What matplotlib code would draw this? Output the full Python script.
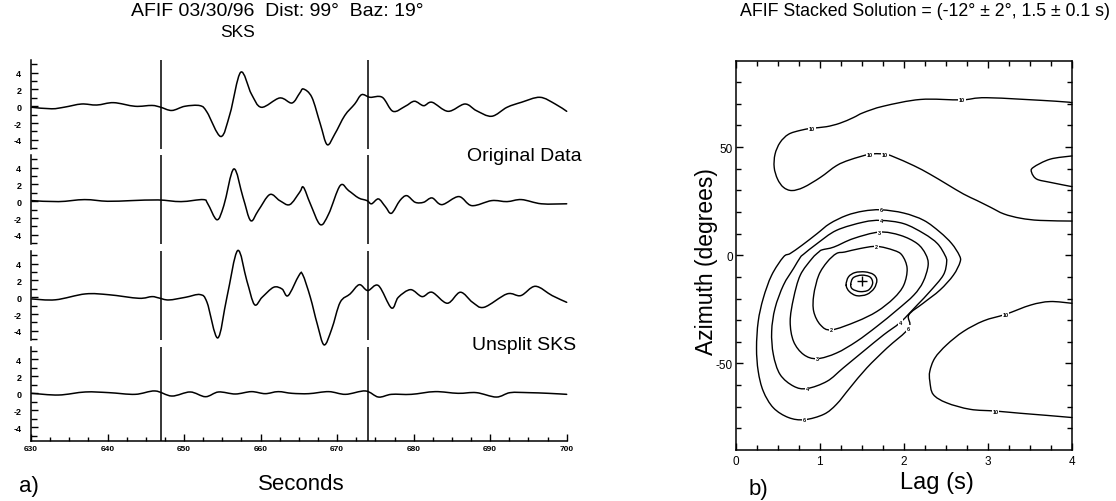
import matplotlib.pyplot as plt
import numpy as np
from matplotlib.path import Path
from matplotlib.patches import PathPatch

plt.rcParams['font.family'] = ['Liberation Sans', 'DejaVu Sans']
plt.rcParams['axes.unicode_minus'] = False

# ---TRACES (seconds, amplitude)---

t_rad = [630.1, 632.7, 634.4, 636.6, 638.6, 640.8, 643.6, 645.8, 646.9, 648.4,
         650.1, 652.1, 653.0, 654.8, 656.0, 657.4, 658.8, 660.1, 662.5, 664.1,
         665.1, 665.6, 666.7, 667.8, 668.7, 669.7, 671.0, 672.3, 673.2, 674.3,
         675.9, 677.3, 678.9, 680.1, 681.3, 682.4, 684.5, 686.7, 688.2, 690.2,
         692.2, 694.1, 696.5, 698.5, 700.0]
v_rad = [-0.12, -0.3, -0.1, 0.27, 0.15, 0.43, 0.0, 0.1, -0.1, -0.5,
         0.0, 0.07, -0.7, -3.6, -0.9, 4.05, 1.46, -0.12, 0.99, 0.39,
         1.55, 2.06, 1.07, -2.1, -4.57, -3.3, -1.1, 0.27, 1.38, 1.07,
         1.07, -0.6, 0.0, 0.6, 0.07, 0.48, -0.6, 0.27, -0.52, -1.19,
         -0.12, 0.48, 1.07, 0.27, -0.6]

t_tan = [630.1, 633.6, 637.0, 640.0, 643.1, 646.6, 649.6, 652.5, 653.1, 654.3,
         655.2, 656.5, 657.7, 658.7, 659.7, 661.2, 662.5, 663.8, 665.1, 665.6,
         666.5, 667.8, 668.9, 670.4, 671.5, 672.8, 673.9, 674.5, 675.4, 676.3,
         677.1, 678.2, 679.1, 680.2, 681.3, 682.4, 683.7, 685.9, 687.6, 690.2,
         692.2, 694.1, 696.7, 700.0]
v_tan = [0.08, -0.04, 0.2, 0.0, 0.08, 0.16, -0.04, 0.2, -0.3, -2.2,
         -0.5, 3.85, 0.48, -2.3, -1.1, 0.8, 0.08, -0.4, 1.07, 1.67,
         -0.3, -2.78, -1.5, 1.87, 1.27, 0.4, 0.08, -0.3, 0.28, -0.63,
         -1.43, 0.08, 0.67, -0.12, -0.12, 0.4, -0.4, 0.56, -0.52, 0.08,
         -0.04, 0.2, -0.3, -0.3]

t_rad_c = [630.1, 633.2, 637.1, 640.2, 644.1, 645.8, 646.7, 648.0, 650.2, 652.1,
           653.0, 654.4, 655.6, 657.0, 658.2, 659.2, 660.2, 661.7, 662.8, 663.6,
           665.0, 665.5, 666.5, 667.4, 668.3, 669.3, 670.4, 671.7, 672.9, 674.0,
           675.4, 677.1, 678.0, 679.6, 681.1, 682.4, 684.4, 686.1, 687.7, 689.2,
           692.2, 694.0, 695.9, 698.1, 700.0]
v_rad_c = [-0.2, -0.3, 0.4, 0.3, -0.12, 0.08, -0.08, -0.32, 0.0, 0.32,
           -0.6, -4.84, 0.0, 5.56, 1.98, -0.87, 0.0, 1.19, 0.99, 0.2,
           2.58, 2.7, 0.0, -3.17, -5.67, -3.77, -0.6, 0.4, 1.5, 0.8,
           1.39, -1.27, 0.0, 0.91, 0.08, 0.6, -0.71, 0.6, -0.6, -1.19,
           0.4, 0.2, 1.31, 0.2, -0.6]

t_tan_c = [630.1, 633.6, 637.1, 640.2, 643.6, 646.2, 648.4, 650.8, 652.8, 654.5,
           656.7, 658.8, 660.6, 662.3, 664.1, 666.3, 668.9, 671.1, 673.7, 675.4,
           677.1, 679.7, 682.8, 685.8, 688.2, 690.8, 692.6, 695.0, 697.6, 700.0]
v_tan_c = [0.0, -0.2, 0.16, 0.08, -0.12, 0.28, -0.32, 0.16, -0.4, 0.16,
           -0.08, 0.2, -0.04, 0.2, 0.0, -0.04, 0.2, -0.12, 0.28, -0.44,
           -0.12, -0.12, 0.2, 0.0, 0.08, -0.44, 0.08, 0.08, 0.0, -0.12]

sks_window = [647, 674]

# ---MISFIT CONTOURS (lag s, azimuth deg)---

c10_top_lag = [4.0, 3.80, 2.99, 2.69, 2.20, 1.76, 1.52, 1.40, 1.24, 1.08, 0.91, 0.77,
               0.63, 0.53, 0.47, 0.46, 0.50, 0.57, 0.67, 0.81, 1.01, 1.20, 1.36, 1.60,
               1.78, 1.88, 2.12, 2.31, 2.51, 2.71, 2.87, 3.03, 3.19, 3.39, 3.62, 4.0]
c10_top_az = [70.5, 71.2, 72.8, 71.8, 72.0, 68.9, 65.9, 63.6, 61.0, 59.4, 58.7, 57.7,
              55.9, 52.1, 46.7, 40.6, 35.2, 31.4, 29.9, 31.4, 36.0, 41.4, 44.1, 46.7,
              46.7, 45.5, 41.4, 37.5, 32.9, 28.3, 25.3, 22.2, 19.1, 17.1, 16.1, 15.8]

c10_lobe_lag = [4.0, 3.74, 3.54, 3.52, 3.58, 3.74, 4.0]
c10_lobe_az = [45.9, 44.4, 40.6, 38.3, 35.2, 33.7, 31.7]

c10_low_lag = [4.0, 3.74, 3.51, 3.21, 2.95, 2.71, 2.51, 2.37, 2.31, 2.31, 2.35, 2.51,
               2.79, 3.09, 3.38, 3.70, 4.0]
c10_low_az = [-22.2, -21.4, -23.0, -27.3, -30.3, -35.2, -41.4, -47.5, -53.6, -58.2,
              -64.3, -68.2, -71.2, -72.0, -73.0, -74.0, -75.0]

c6_lag = [1.73, 2.00, 2.24, 2.43, 2.57, 2.66, 2.67, 2.59, 2.43, 2.23, 2.06,
          2.06, 1.80, 1.56, 1.36, 1.20, 1.05, 0.82, 0.63, 0.45, 0.33, 0.27, 0.25,
          0.27, 0.33, 0.43, 0.57, 0.65, 0.79, 0.97, 1.12, 1.32, 1.52, 1.73]
c6_az = [21.0, 19.5, 16.1, 10.7, 5.4, 0.0, -3.1, -9.2, -16.1, -22.2, -27.6,
         -33.7, -42.9, -52.1, -61.3, -68.9, -73.5, -76.0, -75.0, -70.5, -62.8, -53.6, -42.9,
         -30.6, -19.9, -9.2, -0.8, 0.8, 4.6, 10.0, 14.6, 18.4, 20.4, 21.0]

c4_lag = [1.73, 2.00, 2.24, 2.40, 2.49, 2.51, 2.47, 2.31, 2.16, 1.96, 1.76, 1.52,
          1.28, 1.09, 0.85, 0.69, 0.53, 0.45, 0.43, 0.47, 0.57, 0.69, 0.77, 0.81,
          0.97, 1.20, 1.52, 1.73]
c4_az = [16.1, 14.6, 10.0, 5.4, 0.0, -3.1, -9.2, -16.8, -23.0, -31.0, -36.8, -44.4,
         -52.1, -58.2, -61.6, -60.5, -55.1, -45.9, -35.2, -24.5, -13.8, -6.1, -1.0, 0.5,
         5.4, 11.5, 15.3, 16.1]

c3_lag = [1.71, 1.96, 2.16, 2.26, 2.29, 2.23, 2.12, 1.92, 1.68, 1.44, 1.20, 0.97,
          0.81, 0.69, 0.65, 0.69, 0.77, 0.91, 0.99, 1.03, 1.17, 1.40, 1.71]
c3_az = [10.7, 9.2, 5.4, 0.5, -4.6, -12.3, -18.4, -25.3, -32.9, -39.8, -45.2, -47.8,
         -45.9, -39.8, -30.6, -19.9, -9.2, -1.5, 1.5, 2.5, 3.8, 7.7, 10.7]

c2_lag = [1.68, 1.88, 1.98, 2.04, 2.00, 1.88, 1.68, 1.44, 1.14, 1.01, 0.93, 0.93,
          0.99, 1.09, 1.20, 1.30, 1.48, 1.68]
c2_az = [4.1, 2.3, 0.0, -6.1, -13.8, -19.9, -26.0, -30.6, -34.5, -32.2, -26.0, -18.4,
         -9.2, -3.1, 0.8, 1.5, 3.1, 4.1]

c1_lag = [1.315, 1.343, 1.422, 1.541, 1.640, 1.680, 1.648, 1.561, 1.442, 1.354, 1.315]
c1_az = [-13.8, -10.0, -8.0, -7.7, -8.9, -11.5, -15.3, -18.1, -18.7, -16.8, -13.8]

c05_lag = [1.37, 1.40, 1.50, 1.60, 1.63, 1.58, 1.48, 1.39, 1.37]
c05_az = [-13.5, -10.4, -9.2, -10.1, -13.0, -16.1, -16.8, -15.6, -13.5]

best_lag = 1.5
best_az = -12

# label text and the point index where it sits
contour_labels = [
    (c10_top_lag, c10_top_az, '10', [3, 10, 23, 24]),
    (c10_low_lag, c10_low_az, '10', [3, 13]),
    (c6_lag, c6_az, '6', [0, 11, 17]),
    (c4_lag, c4_az, '4', [0, 9, 14]),
    (c3_lag, c3_az, '3', [0, 11]),
    (c2_lag, c2_az, '2', [0, 8]),
]

fig = plt.figure(figsize=(11.16, 5.02), dpi=100)
W, H = 1116.0, 502.0


def px_axes(x0, y0, x1, y1):
    return fig.add_axes([x0 / W, 1 - y1 / H, (x1 - x0) / W, (y1 - y0) / H])


def smooth_line(ax, xs, ys, closed=False, lw=1.0):
    # draw the points as a smooth curve (Catmull-Rom through each point)
    p = np.column_stack([xs, ys]).astype(float)
    if closed:
        p = p[:-1]
        ext = np.vstack([p[-1:], p, p[:2]])
    else:
        ext = np.vstack([p[:1], p, p[-1:]])
    n = len(ext) - 3
    verts = [ext[1]]
    codes = [Path.MOVETO]
    for i in range(1, n + 1):
        p0, p1, p2, p3 = ext[i - 1], ext[i], ext[i + 1], ext[i + 2]
        verts += [p1 + (p2 - p0) / 6.0, p2 - (p3 - p1) / 6.0, p2]
        codes += [Path.CURVE4] * 3
    patch = PathPatch(Path(verts, codes), fill=False, ec='black', lw=lw,
                      transform=ax.transData, clip_on=False, capstyle='round')
    ax.add_patch(patch)


# ---LEFT PANEL: four stacked traces---
traces = [(t_rad, v_rad), (t_tan, v_tan), (t_rad_c, v_rad_c), (t_tan_c, v_tan_c)]
rows = [(61.1, 150.1), (156.1, 245.1), (252.1, 341.1), (347.8, 441.7)]

for i, ((tt, vv), (y0, y1)) in enumerate(zip(traces, rows)):
    ax = px_axes(31, y0, 566.7, y1)
    smooth_line(ax, tt, vv, lw=1.1)
    for ts in sks_window:
        ax.axvline(ts, color='black', lw=1.1)
    ax.set_xlim(630, 700)
    if i == 3:
        ax.set_ylim(-5.6, 5.5)
    else:
        ax.set_ylim(-5.1, 5.5)
    for s in ['top', 'right']:
        ax.spines[s].set_visible(False)
    ax.spines['left'].set_linewidth(1.1)
    ax.set_yticks([-4, -2, 0, 2, 4])
    ax.set_yticklabels(['-4', '-2', '0', '2', '4'], fontweight='bold')
    ax.set_yticks([-5, -3, -1, 1, 3, 5], minor=True)
    ax.tick_params(axis='y', which='both', direction='in', labelsize=6.5,
                   length=5, width=1.0, pad=7)
    ax.tick_params(axis='y', which='minor', length=4)
    if i == 3:
        ax.spines['bottom'].set_linewidth(1.1)
        ax.set_xticks(np.arange(630, 701, 10))
        ax.set_xticks(np.arange(630, 701, 2.5), minor=True)
        ax.set_xticklabels([str(v) for v in range(630, 701, 10)], fontweight='bold')
        ax.tick_params(axis='x', which='both', direction='in', labelsize=6,
                       length=5, width=1.0, pad=3)
        ax.tick_params(axis='x', which='minor', length=3)
    else:
        ax.spines['bottom'].set_visible(False)
        ax.set_xticks([])

# ---RIGHT PANEL: stacked misfit contours---
axr = px_axes(735.5, 61.5, 1072, 451)
open_sets = [(c10_top_lag, c10_top_az), (c10_lobe_lag, c10_lobe_az),
             (c10_low_lag, c10_low_az)]
closed_sets = [(c6_lag, c6_az), (c4_lag, c4_az), (c3_lag, c3_az),
               (c2_lag, c2_az), (c1_lag, c1_az), (c05_lag, c05_az)]
for xs, ys in open_sets:
    smooth_line(axr, xs, ys)
for xs, ys in closed_sets:
    smooth_line(axr, xs, ys, closed=True)
for xs, ys, txt, idx in contour_labels:
    for k in idx:
        axr.text(xs[k], ys[k], txt, fontsize=4, fontweight='bold', ha='center',
                 va='center', bbox=dict(fc='white', ec='none', pad=0.6), zorder=5)
axr.plot(best_lag, best_az, marker='+', color='black', ms=7, mew=1.0)

axr.set_xlim(0, 4)
axr.set_ylim(-90, 90)
axr.set_xticks([0, 1, 2, 3, 4])
axr.set_xticks(np.arange(0, 4.01, 0.25), minor=True)
axr.set_yticks([-50, 0, 50])
axr.set_yticklabels(['-50', '0', '50'])
axr.set_yticks(np.arange(-80, 81, 10), minor=True)
axr.tick_params(which='both', direction='in', top=True, right=True,
                labelsize=8.5, width=1.0, length=5)
axr.tick_params(which='minor', length=3.5)
axr.tick_params(axis='y', pad=2)
for s in axr.spines.values():
    s.set_linewidth(1.1)

# ---TEXT---
def ftext(x, y, s, **kw):
    fig.text(x / W, 1 - y / H, s, ha='center', va='center', **kw)


ftext(277, 12, 'AFIF 03/30/96  Dist: 99°  Baz: 19°', fontsize=14)
ftext(238, 33, 'SKS', fontsize=12.5)
ftext(524, 157, 'Original Data', fontsize=14)
ftext(524, 346, 'Unsplit SKS', fontsize=14)
ftext(301, 485, 'Seconds', fontsize=16)
ftext(29, 487, 'a)', fontsize=16)
ftext(925, 12, 'AFIF Stacked Solution = (-12° ± 2°, 1.5 ± 0.1 s)', fontsize=12.8)
ftext(706, 262, 'Azimuth (degrees)', fontsize=16.5, rotation=90)
ftext(937, 483, 'Lag (s)', fontsize=17)
ftext(758, 490, 'b)', fontsize=16)

plt.savefig('out.png', dpi=100)
